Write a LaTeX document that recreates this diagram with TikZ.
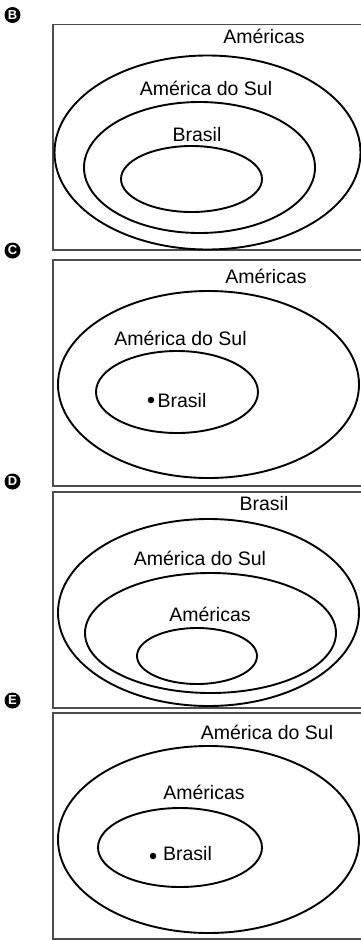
\documentclass[tikz,border=0pt]{standalone}
\usepackage{fontspec}
\setmainfont{Liberation Sans}
\usetikzlibrary{shapes.geometric}
\begin{document}
\begin{tikzpicture}[x=1pt,y=-1pt,
  lbl/.style={anchor=base,inner sep=0pt,font=\fontsize{19.5}{22}\selectfont},
  ell/.style={draw,ellipse,line width=1.9pt,inner sep=0pt},
  frame/.style={draw=black!70,line width=1.3pt},
  tag/.style={circle,fill=black,text=white,inner sep=0pt,minimum size=16pt,font=\fontsize{13}{13}\bfseries\selectfont},
  pt/.style={circle,fill=black,inner sep=0pt,minimum size=6.5pt}]
\useasboundingbox (0,0) rectangle (361,940);
% ---------- B ----------
\node[tag] (tB) at (12.5,15) {B};
\draw[frame] (361,24.5) -- (53,24.5) -- (53,250) -- (361,250);
\node[ell,minimum width=306pt,minimum height=194pt] (oB) at (207.5,152.5) {};
\node[ell,minimum width=231pt,minimum height=131pt] (mB) at (199.5,167.5) {};
\node[ell,minimum width=141pt,minimum height=66pt] (iB) at (191.5,179) {};
\node[lbl] (l1B) at (264,43) {Américas};
\node[lbl] (l2B) at (206,95) {América do Sul};
\node[lbl] (l3B) at (197,141) {Brasil};
% ---------- C ----------
\node[tag] (tC) at (12.5,250.5) {C};
\draw[frame] (361,260) -- (53,260) -- (53,486) -- (361,486);
\node[ell,minimum width=301pt,minimum height=187pt] (oC) at (208.5,384.5) {};
\node[ell,minimum width=162pt,minimum height=82pt] (iC) at (177,392) {};
\node[lbl] (l1C) at (266,283) {Américas};
\node[lbl] (l2C) at (180.5,345) {América do Sul};
\node[pt] (dC) at (151,400) {};
\node[lbl] (l3C) at (182,407) {Brasil};
% ---------- D ----------
\node[tag] (tD) at (12.5,481.5) {D};
\draw[frame] (361,492) -- (53,492) -- (53,708) -- (361,708);
\node[ell,minimum width=301pt,minimum height=187pt] (oD) at (208.5,612.5) {};
\node[ell,minimum width=251pt,minimum height=120pt] (mD) at (210.5,633) {};
\node[ell,minimum width=120pt,minimum height=56pt] (iD) at (197,656) {};
\node[lbl] (l1D) at (264,510) {Brasil};
\node[lbl] (l2D) at (200,565) {América do Sul};
\node[lbl] (l3D) at (210,621) {Américas};
% ---------- E ----------
\node[tag] (tE) at (12.5,700.5) {E};
\draw[frame] (361,713) -- (53,713) -- (53,939) -- (361,939);
\node[ell,minimum width=301pt,minimum height=187pt] (oE) at (208.5,839.5) {};
\node[ell,minimum width=164pt,minimum height=79pt] (iE) at (180,847.5) {};
\node[lbl] (l1E) at (267,739) {América do Sul};
\node[lbl] (l2E) at (204,799) {Américas};
\node[pt] (dE) at (153,856) {};
\node[lbl] (l3E) at (187.5,860) {Brasil};
\end{tikzpicture}
\end{document}
